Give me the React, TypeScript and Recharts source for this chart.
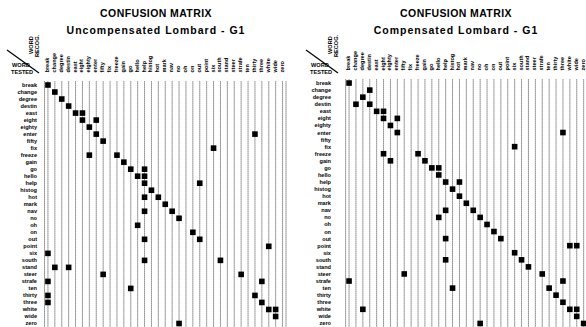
import { ScatterChart, Scatter, XAxis, YAxis, CartesianGrid } from 'recharts'

const words = ['break', 'change', 'degree', 'destin', 'east', 'eight', 'eighty', 'enter', 'fifty', 'fix', 'freeze', 'gain', 'go', 'hello', 'help', 'histog', 'hot', 'mark', 'nav', 'no', 'oh', 'on', 'out', 'point', 'six', 'south', 'stand', 'steer', 'strafe', 'ten', 'thirty', 'three', 'white', 'wide', 'zero']

// [word tested, word recognised]
const uncompensated = [
    ['break', 'break'], ['change', 'change'], ['degree', 'degree'], ['destin', 'destin'],
    ['east', 'east'], ['east', 'eight'], ['eight', 'eight'], ['eight', 'enter'],
    ['eighty', 'eighty'], ['enter', 'enter'], ['enter', 'thirty'], ['fifty', 'fifty'],
    ['fix', 'six'], ['freeze', 'eighty'], ['freeze', 'freeze'], ['gain', 'gain'],
    ['go', 'go'], ['go', 'help'], ['hello', 'hello'], ['hello', 'help'],
    ['help', 'help'], ['help', 'out'], ['histog', 'histog'], ['hot', 'help'], ['hot', 'hot'],
    ['mark', 'mark'], ['nav', 'help'], ['nav', 'nav'], ['no', 'no'], ['oh', 'hello'],
    ['on', 'on'], ['out', 'help'], ['out', 'out'], ['point', 'white'], ['six', 'break'],
    ['south', 'help'], ['south', 'south'], ['stand', 'change'], ['stand', 'destin'],
    ['steer', 'fifty'], ['steer', 'strafe'], ['strafe', 'break'], ['strafe', 'three'],
    ['ten', 'go'], ['thirty', 'break'], ['thirty', 'thirty'], ['three', 'break'], ['three', 'three'],
    ['white', 'white'], ['white', 'wide'], ['wide', 'wide'], ['zero', 'no'],
]

const compensated = [
    ['break', 'break'], ['change', 'destin'], ['degree', 'degree'], ['destin', 'change'], ['destin', 'destin'],
    ['east', 'east'], ['east', 'eight'], ['eight', 'eight'], ['eight', 'enter'],
    ['eighty', 'eighty'], ['enter', 'enter'], ['enter', 'three'], ['fix', 'six'],
    ['freeze', 'eight'], ['freeze', 'freeze'], ['gain', 'eighty'], ['gain', 'gain'],
    ['go', 'go'], ['go', 'hello'], ['hello', 'hello'], ['help', 'help'], ['help', 'hot'],
    ['histog', 'histog'], ['hot', 'hot'], ['mark', 'mark'], ['nav', 'help'], ['nav', 'nav'],
    ['no', 'hello'], ['no', 'no'], ['oh', 'oh'], ['on', 'on'], ['out', 'help'], ['out', 'out'],
    ['point', 'white'], ['point', 'wide'], ['six', 'six'], ['south', 'help'], ['south', 'south'],
    ['stand', 'stand'], ['steer', 'fifty'], ['steer', 'strafe'], ['strafe', 'break'], ['strafe', 'three'],
    ['ten', 'histog'], ['ten', 'ten'], ['thirty', 'thirty'], ['three', 'three'],
    ['white', 'degree'], ['white', 'white'], ['white', 'wide'], ['wide', 'wide'],
    ['zero', 'no'], ['zero', 'zero'],
]

const FONT = '"Liberation Sans", Arial, sans-serif'
const idx = words.map((_, i) => i)

const toPoints = (pairs: string[][]) =>
    pairs.map(([t, r]) => ({ x: words.indexOf(r), y: words.indexOf(t) }))

const Square = (props: any) => (
    <rect x={props.cx - 2.8} y={props.cy - 2.8} width={5.6} height={5.6} fill="#000" />
)

function Matrix({ pairs, yAxisWidth, labelX, marginRight, topHeight }: any) {
    const ColTick = ({ x, payload }: any) => (
        <text
            transform={`translate(${x + 1},${topHeight - 9}) rotate(-90)`}
            textAnchor="start"
            fontSize={5.6}
            fontWeight="bold"
            fontFamily={FONT}
            fill="#000"
        >
            {words[payload.value]}
        </text>
    )
    const RowTick = ({ y, payload }: any) => (
        <text x={labelX} y={y + 2} textAnchor="end" fontSize={5.6} fontWeight="bold" fontFamily={FONT} fill="#000">
            {words[payload.value]}
        </text>
    )
    return (
        <ScatterChart width={yAxisWidth + 35 * 6.9 + marginRight} height={327} margin={{ top: 0, right: marginRight, bottom: 0, left: 0 }}>
            <CartesianGrid horizontal={false} stroke="#111" strokeDasharray="0.9 1.1" strokeWidth={0.9} />
            <XAxis type="number" dataKey="x" orientation="top" height={topHeight} domain={[-0.5, 34.5]} ticks={idx}
                interval={0} allowDataOverflow tickLine={false} axisLine={false} tick={<ColTick />} />
            <YAxis type="number" dataKey="y" reversed width={yAxisWidth} domain={[-0.5, 34.5]} ticks={idx}
                interval={0} allowDataOverflow tickLine={false} axisLine={false} tick={<RowTick />} />
            <Scatter data={toPoints(pairs)} shape={Square} isAnimationActive={false} />
        </ScatterChart>
    )
}

function Header({ cx, sub, lx }: any) {
    return (
        <g fontFamily={FONT} fontWeight="bold" fill="#000">
            <text x={cx} y={17} textAnchor="middle" fontSize={10.5} letterSpacing={0.4}>CONFUSION MATRIX</text>
            <text x={cx} y={33.5} textAnchor="middle" fontSize={10.5} letterSpacing={1}>{sub}</text>
            <line x1={lx - 5} y1={50} x2={lx + 27} y2={73} stroke="#000" strokeWidth={1.2} />
            <text x={lx} y={67} fontSize={5.6}>WORD</text>
            <text x={lx - 1} y={73.5} fontSize={5.6}>TESTED</text>
            <text transform={`translate(${lx + 21},54) rotate(-90)`} fontSize={5.6}>WORD</text>
            <text transform={`translate(${lx + 27},57) rotate(-90)`} fontSize={5.6}>RECOG.</text>
        </g>
    )
}

export default function App() {
    return (
        <div style={{ position: 'absolute', left: 0, top: 0, width: 586, height: 327, background: '#fff' }}>
            <div style={{ position: 'absolute', left: 0, top: 0 }}>
                <Matrix pairs={uncompensated} yAxisWidth={44.5} labelX={37} marginRight={4} topHeight={81.5} />
            </div>
            <div style={{ position: 'absolute', left: 290, top: 0 }}>
                <Matrix pairs={compensated} yAxisWidth={55.6} labelX={41} marginRight={1} topHeight={79.5} />
            </div>
            <svg width={586} height={327} style={{ position: 'absolute', left: 0, top: 0, pointerEvents: 'none' }}>
                <Header cx={156} sub="Uncompensated Lombard - G1" lx={12} />
                <Header cx={456} sub="Compensated Lombard - G1" lx={311} />
            </svg>
        </div>
    )
}
